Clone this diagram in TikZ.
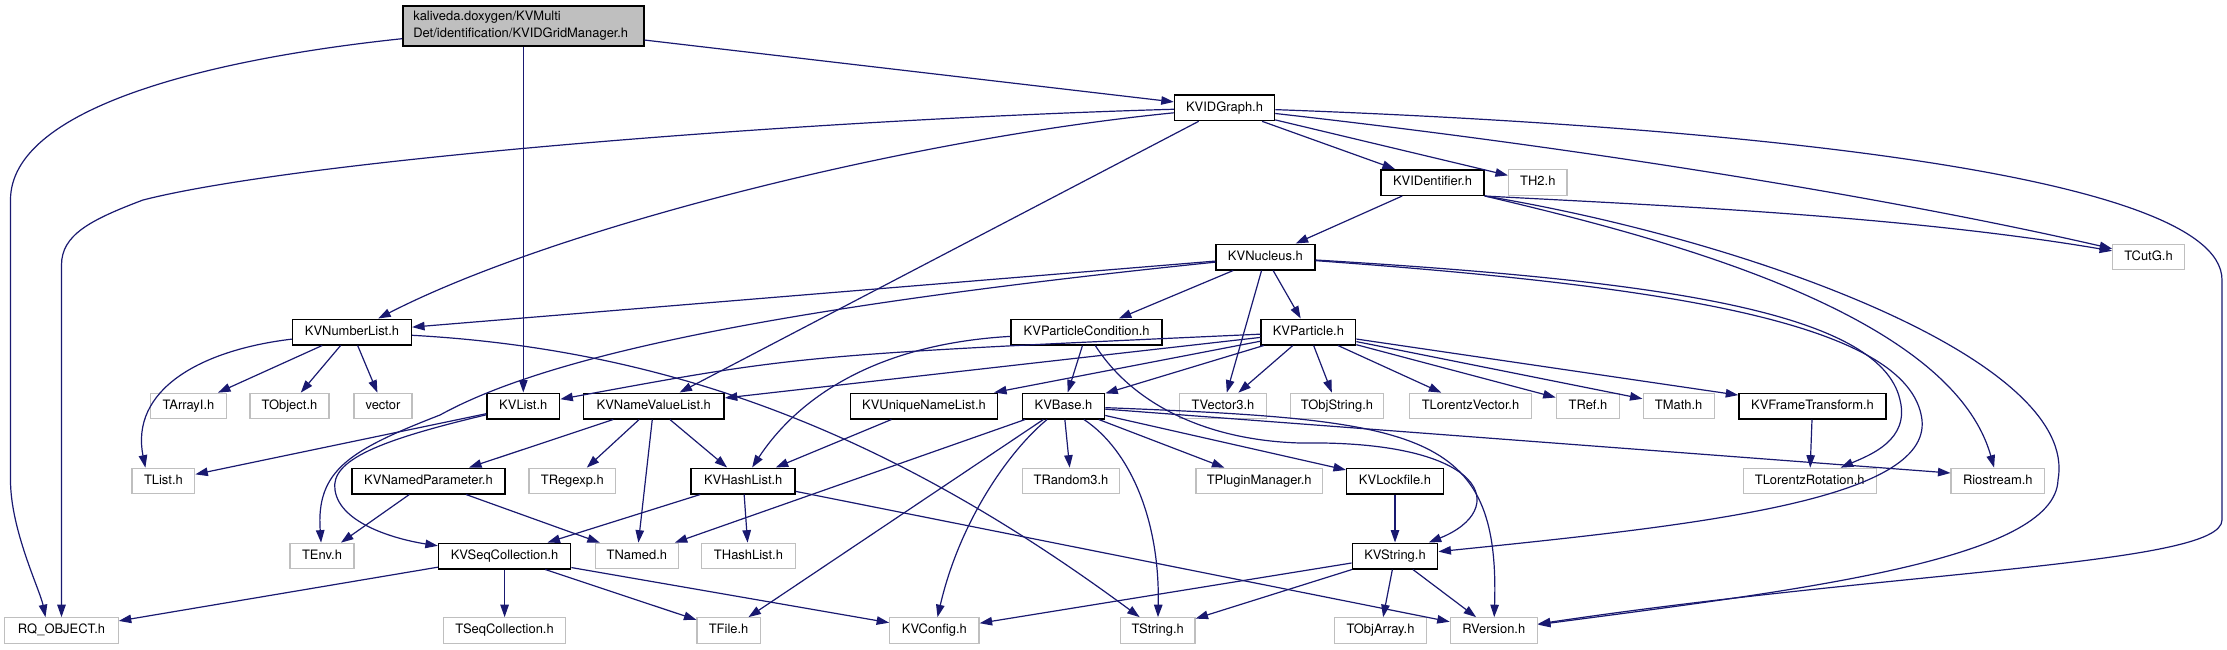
\documentclass[tikz,border=0pt]{standalone}
\usepackage{fontspec}
\setmainfont{TeX Gyre Heros}
\usetikzlibrary{arrows.meta}
\definecolor{edgec}{HTML}{191970}
\definecolor{greyb}{HTML}{BFBFBF}
\begin{document}
\begin{tikzpicture}[x=1pt,y=-1pt,
  every node/.style={font=\fontsize{12.95}{16.7}\selectfont},
  nd/.style={draw=black, line width=1.5pt, fill=white, minimum height=25.5pt, inner sep=0pt, text height=9.3pt, text depth=2.7pt},
  ext/.style={nd, draw=greyb, line width=1.2pt},
  e/.style={draw=edgec, line width=1.2pt, -{Triangle[length=12.5pt,width=8.5pt]}}]
\useasboundingbox (0,0) rectangle (2227,649);
% rank 0
\node[draw=black, line width=1.5pt, fill=greyb, minimum width=241pt, minimum height=40pt, inner xsep=10.5pt, inner ysep=0pt, text width=220pt, align=left] (root) at (523.3,26) {kaliveda.doxygen/KVMulti\\Det/identification/KVIDGridManager.h};
% rank 1
\node[nd, minimum width=100pt] (KVIDGraph) at (1224.5,107.8) {KVIDGraph.h};
% rank 2
\node[nd, minimum width=103pt] (KVIDentifier) at (1432.5,182.5) {KVIDentifier.h};
\node[ext, minimum width=58.5pt] (TH2) at (1537.8,182.5) {TH2.h};
% rank 3
\node[nd, minimum width=98.8pt] (KVNucleus) at (1265.4,257) {KVNucleus.h};
\node[ext, minimum width=71.6pt] (TCutG) at (2148.5,257) {TCutG.h};
% rank 4
\node[nd, minimum width=118.6pt] (KVNumberList) at (352,332) {KVNumberList.h};
\node[nd, minimum width=151pt] (KVParticleCondition) at (1086.7,332) {KVParticleCondition.h};
\node[nd, minimum width=94.4pt] (KVParticle) at (1308.4,332) {KVParticle.h};
% rank 5
\node[ext, minimum width=75.5pt] (TArrayI) at (188.5,406) {TArrayI.h};
\node[ext, minimum width=79pt] (TObject) at (289.5,406) {TObject.h};
\node[ext, minimum width=58pt] (vector) at (383,406) {vector};
\node[nd, minimum width=72.6pt] (KVList) at (523.3,406) {KVList.h};
\node[nd, minimum width=140.5pt] (KVNameValueList) at (653.8,406) {KVNameValueList.h};
\node[nd, minimum width=147pt] (KVUniqueNameList) at (924,406) {KVUniqueNameList.h};
\node[nd, minimum width=82pt] (KVBase) at (1063.5,406) {KVBase.h};
\node[ext, minimum width=86.7pt] (TVector3) at (1223,406) {TVector3.h};
\node[ext, minimum width=93.4pt] (TObjString) at (1337,406) {TObjString.h};
\node[ext, minimum width=122.6pt] (TLorentzVector) at (1470.5,406) {TLorentzVector.h};
\node[ext, minimum width=63.4pt] (TRef) at (1588,406) {TRef.h};
\node[ext, minimum width=71pt] (TMath) at (1678.6,406) {TMath.h};
\node[nd, minimum width=147pt] (KVFrameTransform) at (1812.5,406) {KVFrameTransform.h};
% rank 6
\node[ext, minimum width=62.7pt] (TList) at (163.4,481) {TList.h};
\node[nd, minimum width=153pt] (KVNamedParameter) at (428.5,481) {KVNamedParameter.h};
\node[ext, minimum width=86.6pt] (TRegexp) at (572.3,481) {TRegexp.h};
\node[nd, minimum width=104pt] (KVHashList) at (743.2,481) {KVHashList.h};
\node[ext, minimum width=97pt] (TRandom3) at (1071,481) {TRandom3.h};
\node[ext, minimum width=126.5pt] (TPluginManager) at (1259.2,481) {TPluginManager.h};
\node[nd, minimum width=96.6pt] (KVLockfile) at (1395,481) {KVLockfile.h};
\node[ext, minimum width=133pt] (TLorentzRotation) at (1809.7,481) {TLorentzRotation.h};
\node[ext, minimum width=93.5pt] (Riostream) at (1997.8,481) {Riostream.h};
% rank 7
\node[ext, minimum width=64pt] (TEnv) at (322,556) {TEnv.h};
\node[nd, minimum width=132pt] (KVSeqCollection) at (504.6,556) {KVSeqCollection.h};
\node[ext, minimum width=82.7pt] (TNamed) at (636.9,556) {TNamed.h};
\node[ext, minimum width=93.7pt] (THashList) at (748.5,556) {THashList.h};
\node[nd, minimum width=85.4pt] (KVString) at (1395,556) {KVString.h};
% rank 8
\node[ext, minimum width=113.4pt] (RQOBJECT) at (61.5,630.5) {RQ\_OBJECT.h};
\node[ext, minimum width=122.4pt] (TSeqCollection) at (504.6,630.5) {TSeqCollection.h};
\node[ext, minimum width=63.2pt] (TFile) at (728.6,630.5) {TFile.h};
\node[ext, minimum width=89.3pt] (KVConfig) at (934.4,630.5) {KVConfig.h};
\node[ext, minimum width=74.5pt] (TString) at (1157.7,630.5) {TString.h};
\node[ext, minimum width=92.4pt] (TObjArray) at (1380.5,630.5) {TObjArray.h};
\node[ext, minimum width=87pt] (RVersion) at (1493.8,630.5) {RVersion.h};

% ---- edges ----
% root
\draw[e] (root) -- (KVIDGraph);
\draw[e] (root) -- (KVList);
\draw[e] (root) .. controls (200,60) and (10.5,110) .. (10.5,200) -- (10.5,480) .. controls (10.5,530) and (40,590) .. ([xshift=-16pt]RQOBJECT.north);
% KVIDGraph
\draw[e] (KVIDGraph) .. controls (800,120) and (300,160) .. (143,200) .. controls (90,220) and (61.5,235) .. (61.5,265) -- (RQOBJECT);
\draw[e] (KVIDGraph) .. controls (900,140) and (550,230) .. (KVNumberList);
\draw[e] (KVIDGraph) -- (KVNameValueList);
\draw[e] (KVIDGraph) -- (KVIDentifier);
\draw[e] (KVIDGraph) -- (TH2);
\draw[e] (KVIDGraph) .. controls (1600,150) and (1900,200) .. (TCutG);
\draw[e] (KVIDGraph) .. controls (1700,125) and (2222,170) .. (2222,280) -- (2222,520) .. controls (2222,565) and (1900,570) .. (RVersion);
% KVIDentifier
\draw[e] (KVIDentifier) -- (KVNucleus);
\draw[e] (KVIDentifier.south east) .. controls (1650,205) and (1900,215) .. (TCutG);
\draw[e] (KVIDentifier.south east) .. controls (1650,235) and (1950,310) .. (Riostream);
\draw[e] (KVIDentifier.south east) .. controls (1750,240) and (2080,360) .. (2058,480) .. controls (2055,560) and (1800,590) .. (RVersion);
% KVNucleus
\draw[e] (KVNucleus) -- (KVNumberList);
\draw[e] (KVNucleus) .. controls (750,310) and (540,360) .. (440,415) .. controls (350,450) and (316,470) .. (TEnv);
\draw[e] (KVNucleus) -- (KVParticleCondition);
\draw[e] (KVNucleus) -- (TVector3);
\draw[e] (KVNucleus) -- (KVParticle);
\draw[e] (KVNucleus) .. controls (1650,280) and (1880,310) .. (1900,400) .. controls (1910,440) and (1870,455) .. (TLorentzRotation);
\draw[e] (KVNucleus) .. controls (1650,285) and (1910,320) .. (1922,420) .. controls (1930,500) and (1700,525) .. (KVString);
% KVNumberList
\draw[e] (KVNumberList) .. controls (200,350) and (130,390) .. ([xshift=-18pt]TList.north);
\draw[e] (KVNumberList) -- (TArrayI);
\draw[e] (KVNumberList) -- (TObject);
\draw[e] (KVNumberList) -- (vector);
\draw[e] (KVNumberList) .. controls (680,350) and (900,440) .. (TString);
% KVParticleCondition
\draw[e] (KVParticleCondition) -- (KVBase);
\draw[e] (KVParticleCondition) .. controls (860,345) and (790,410) .. (KVHashList);
\draw[e] (KVParticleCondition) .. controls (1130,400) and (1200,440) .. (1300,443) .. controls (1490,440) and (1510,510) .. (KVString);
% KVParticle
\draw[e] (KVParticle) .. controls (800,355) .. (KVList);
\draw[e] (KVParticle) -- (KVNameValueList);
\draw[e] (KVParticle) -- (KVUniqueNameList);
\draw[e] (KVParticle) -- (KVBase);
\draw[e] (KVParticle) -- (TVector3);
\draw[e] (KVParticle) -- (TObjString);
\draw[e] (KVParticle) -- (TLorentzVector);
\draw[e] (KVParticle) -- (TRef);
\draw[e] (KVParticle) -- (TMath);
\draw[e] (KVParticle) -- (KVFrameTransform);
% KVList
\draw[e] (KVList) -- (TList);
\draw[e] (KVList) .. controls (380,440) and (330,460) .. (335,490) .. controls (340,525) and (400,540) .. (KVSeqCollection);
% KVNameValueList
\draw[e] (KVNameValueList) -- (KVNamedParameter);
\draw[e] (KVNameValueList) -- (TRegexp);
\draw[e] (KVNameValueList) -- (TNamed);
\draw[e] (KVNameValueList) -- (KVHashList);
% KVUniqueNameList
\draw[e] (KVUniqueNameList) -- (KVHashList);
% KVBase
\draw[e] (KVBase) -- (TNamed);
\draw[e] (KVBase) -- (TFile);
\draw[e] (KVBase) .. controls (1010,450) and (960,520) .. (KVConfig);
\draw[e] (KVBase) -- (TRandom3);
\draw[e] (KVBase) .. controls (1130,450) and (1160,520) .. (TString);
\draw[e] (KVBase) -- (TPluginManager);
\draw[e] (KVBase) -- (KVLockfile);
\draw[e] (KVBase) -- ([yshift=8pt]Riostream.west);
\draw[e] (KVBase) .. controls (1420,420) and (1500,430) .. (RVersion);
% KVFrameTransform
\draw[e] (KVFrameTransform) -- (TLorentzRotation);
% KVNamedParameter
\draw[e] (KVNamedParameter) -- (TEnv);
\draw[e] (KVNamedParameter) -- (TNamed);
% KVHashList
\draw[e] (KVHashList) -- (KVSeqCollection);
\draw[e] (KVHashList) -- (THashList);
\draw[e] (KVHashList) -- (RVersion);
% KVLockfile
\draw[e] (KVLockfile) -- (KVString);
% KVSeqCollection
\draw[e] (KVSeqCollection) -- (RQOBJECT);
\draw[e] (KVSeqCollection) -- (TSeqCollection);
\draw[e] (KVSeqCollection) -- (TFile);
\draw[e] (KVSeqCollection) -- (KVConfig);
% KVString
\draw[e] (KVString) -- (KVConfig);
\draw[e] (KVString) -- (TString);
\draw[e] (KVString) -- (TObjArray);
\draw[e] (KVString) -- (RVersion);
\end{tikzpicture}
\end{document}
